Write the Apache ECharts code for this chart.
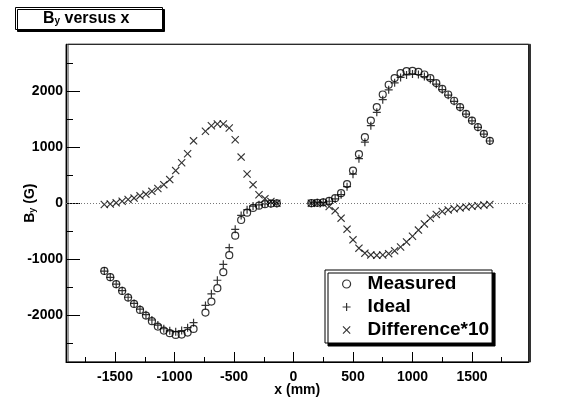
<!DOCTYPE html>
<html>
<head>
<meta charset="utf-8">
<script src="https://cdn.jsdelivr.net/npm/echarts@6/dist/echarts.min.js"></script>
<style>
html,body{margin:0;padding:0;background:#fff;}
#chart{width:577px;height:398px;}
</style>
</head>
<body>
<div id="chart"></div>
<script>
// ---- data ----
var xLeft = [-1590,-1540,-1490,-1440,-1390,-1340,-1290,-1240,-1190,-1140,-1090,-1040,-990,-940,-890,-840,
             -740,-690,-640,-590,-540,-490,-440,-390,-340,-290,-240,-190,-140];
var xRight = [150,200,250,300,350,400,450,500,550,600,650,700,750,800,850,900,950,1000,1050,1100,1150,1200,
              1250,1300,1350,1400,1450,1500,1550,1600,1650];

var measuredLeft = [-1207,-1319,-1444,-1563,-1682,-1795,-1902,-2003,-2103,-2199,-2271,-2317,-2348,-2342,-2306,-2241,
                    -1950,-1754,-1515,-1230,-927,-580,-300,-170,-85,-45,-20,-8,-3];
var measuredRight = [0,5,15,40,89,178,339,581,873,1176,1472,1711,1936,2109,2228,2317,2353,2358,2340,2292,2228,2139,
                     2037,1936,1824,1711,1592,1472,1355,1235,1110];

var idealLeft = [-1210,-1321,-1444,-1560,-1676,-1786,-1889,-1987,-2082,-2173,-2238,-2275,-2290,-2270,-2218,-2130,
                 -1822,-1616,-1374,-1089,-793,-467,-218,-118,-52,-30,-12,-5,-3];
var idealRight = [0,5,14,34,75,151,293,516,793,1087,1380,1618,1843,2019,2143,2239,2284,2299,2292,2255,2201,2119,
                  2022,1924,1814,1702,1585,1466,1350,1231,1107];

var diffLeft = [-25,-15,5,35,65,90,130,160,210,260,330,420,580,720,880,1110,
                1280,1380,1410,1410,1340,1130,820,520,330,150,80,30,0];
var diffRight = [0,0,-10,-60,-137,-267,-463,-654,-802,-891,-922,-930,-925,-900,-850,-780,-690,-590,-480,-370,-270,-200,
                 -150,-120,-100,-85,-70,-55,-45,-35,-25];

var xMajorTicks = [-1500,-1000,-500,0,500,1000,1500];
var xMinorTicks = [-1750,-1250,-750,-250,250,750,1250,1750];
var yMajorTicks = [-2000,-1000,0,1000,2000];
var yMinorTicks = [-2500,-1500,-500,500,1500,2500];

var seriesNames = ['Measured','Ideal','Difference*10'];
var titleText = '{b|B}{s|y}{b| versus x}';
var xName = 'x (mm)';
var yName = '{b|B}{s|y}{b| (G)}';

// ---- build ----
var xAll = xLeft.concat(xRight);
function pairs(ys){ return xAll.map(function(x,i){ return [x, ys[i]]; }); }
var measured = pairs(measuredLeft.concat(measuredRight));
var ideal = pairs(idealLeft.concat(idealRight));
var diff = pairs(diffLeft.concat(diffRight));

var FONT = '"Liberation Sans", Arial, Helvetica, sans-serif';
var X_MIN = -1912, X_MAX = 1975, Y_MIN = -2830, Y_MAX = 2830;
function plain(v){ return String(v); }

var plusPath = 'path://M3.4,0 H4.6 V3.4 H8 V4.6 H4.6 V8 H3.4 V4.6 H0 V3.4 H3.4 Z';
var crossPath = 'path://M0,0.8 L0.8,0 L4,3.2 L7.2,0 L8,0.8 L4.8,4 L8,7.2 L7.2,8 L4,4.8 L0.8,8 L0,7.2 L3.2,4 Z';

var chart = echarts.init(document.getElementById('chart'), null, {renderer:'canvas'});
chart.setOption({
  animation: false,
  backgroundColor: '#fff',
  textStyle: {fontFamily: FONT},
  title: {
    text: titleText,
    left: 15, top: 8,
    padding: [3, 33, 3, 28],
    backgroundColor: '#fff',
    borderColor: '#000', borderWidth: 1,
    shadowColor: '#000', shadowOffsetX: 2, shadowOffsetY: 2, shadowBlur: 0,
    textStyle: {
      rich: {
        b: {fontFamily: FONT, fontSize: 16, fontWeight: 'bold', color: '#000', lineHeight: 15},
        s: {fontFamily: FONT, fontSize: 10, fontWeight: 'bold', color: '#000', lineHeight: 4, verticalAlign: 'bottom'}
      }
    }
  },
  legend: {
    orient: 'vertical',
    left: 325, top: 270,
    padding: [4, 3, 3, 17],
    itemGap: 3,
    itemWidth: 32, itemHeight: 8,
    backgroundColor: '#fff',
    borderColor: '#000', borderWidth: 1,
    shadowColor: '#000', shadowOffsetX: 3, shadowOffsetY: 3, shadowBlur: 0,
    textStyle: {fontFamily: FONT, fontSize: 19, fontWeight: 'bold', color: '#000', lineHeight: 20},
    selectedMode: false,
    data: [
      {name: seriesNames[0], itemStyle: {color: 'rgba(0,0,0,0)', borderColor: '#000', borderWidth: 1.2}},
      {name: seriesNames[1], itemStyle: {color: '#000', borderWidth: 0}},
      {name: seriesNames[2], itemStyle: {color: '#000', borderWidth: 0}}
    ]
  },
  grid: {
    left: 66, right: 48.5, top: 44.3, bottom: 36,
    outerBoundsMode: 'none',
    containLabel: false,
    show: true,
    backgroundColor: '#fff',
    borderColor: '#222', borderWidth: 1,
    shadowColor: '#333', shadowOffsetX: 2, shadowOffsetY: 0, shadowBlur: 0
  },
  xAxis: [{
    type: 'value', min: X_MIN, max: X_MAX, position: 'bottom',
    name: xName, nameLocation: 'middle', nameGap: 21, nameMoveOverlap: false,
    nameTextStyle: {fontFamily: FONT, fontSize: 14, fontWeight: 'bold', color: '#000'},
    axisLine: {show: true, onZero: false, lineStyle: {color: '#000', width: 1}},
    axisTick: {show: true, inside: true, length: 10, customValues: xMajorTicks, lineStyle: {color: '#000'}},
    axisLabel: {show: true, customValues: xMajorTicks, formatter: plain, margin: 8, fontFamily: FONT, fontSize: 14, fontWeight: 'bold', color: '#000'},
    splitLine: {show: false}
  }, {
    type: 'value', min: X_MIN, max: X_MAX, position: 'bottom',
    axisLine: {show: false, onZero: false},
    axisTick: {show: true, inside: true, length: 5, customValues: xMinorTicks, lineStyle: {color: '#000'}},
    axisLabel: {show: false},
    splitLine: {show: false}
  }],
  yAxis: [{
    type: 'value', min: Y_MIN, max: Y_MAX, position: 'left',
    name: yName, nameLocation: 'middle', nameGap: 29, nameMoveOverlap: false,
    nameTextStyle: {
      rich: {
        b: {fontFamily: FONT, fontSize: 14, fontWeight: 'bold', color: '#000', lineHeight: 14},
        s: {fontFamily: FONT, fontSize: 9, fontWeight: 'bold', color: '#000', lineHeight: 4, verticalAlign: 'bottom'}
      }
    },
    axisLine: {show: true, onZero: false, lineStyle: {color: '#000', width: 1}},
    axisTick: {show: true, inside: true, length: 14, customValues: yMajorTicks, lineStyle: {color: '#000'}},
    axisLabel: {show: true, customValues: yMajorTicks, formatter: plain, margin: 3, fontFamily: FONT, fontSize: 14, fontWeight: 'bold', color: '#000'},
    splitLine: {show: false}
  }, {
    type: 'value', min: Y_MIN, max: Y_MAX, position: 'left',
    axisLine: {show: false, onZero: false},
    axisTick: {show: true, inside: true, length: 7, customValues: yMinorTicks, lineStyle: {color: '#000'}},
    axisLabel: {show: false},
    splitLine: {show: false}
  }],
  series: [{
    name: seriesNames[0], type: 'scatter', data: measured,
    symbol: 'circle', symbolSize: 7,
    itemStyle: {color: 'rgba(0,0,0,0)', borderColor: '#000', borderWidth: 1.2},
    emphasis: {disabled: true}, z: 3,
    markLine: {
      silent: true, symbol: ['none','none'],
      label: {show: false},
      lineStyle: {type: [1, 2], color: '#777', width: 1},
      data: [{yAxis: 0}]
    }
  }, {
    name: seriesNames[1], type: 'scatter', data: ideal,
    symbol: plusPath, symbolSize: 8,
    itemStyle: {color: '#000', borderWidth: 0},
    emphasis: {disabled: true}, z: 4
  }, {
    name: seriesNames[2], type: 'scatter', data: diff,
    symbol: crossPath, symbolSize: 8,
    itemStyle: {color: '#000', borderWidth: 0},
    emphasis: {disabled: true}, z: 4
  }]
});
</script>
</body>
</html>
